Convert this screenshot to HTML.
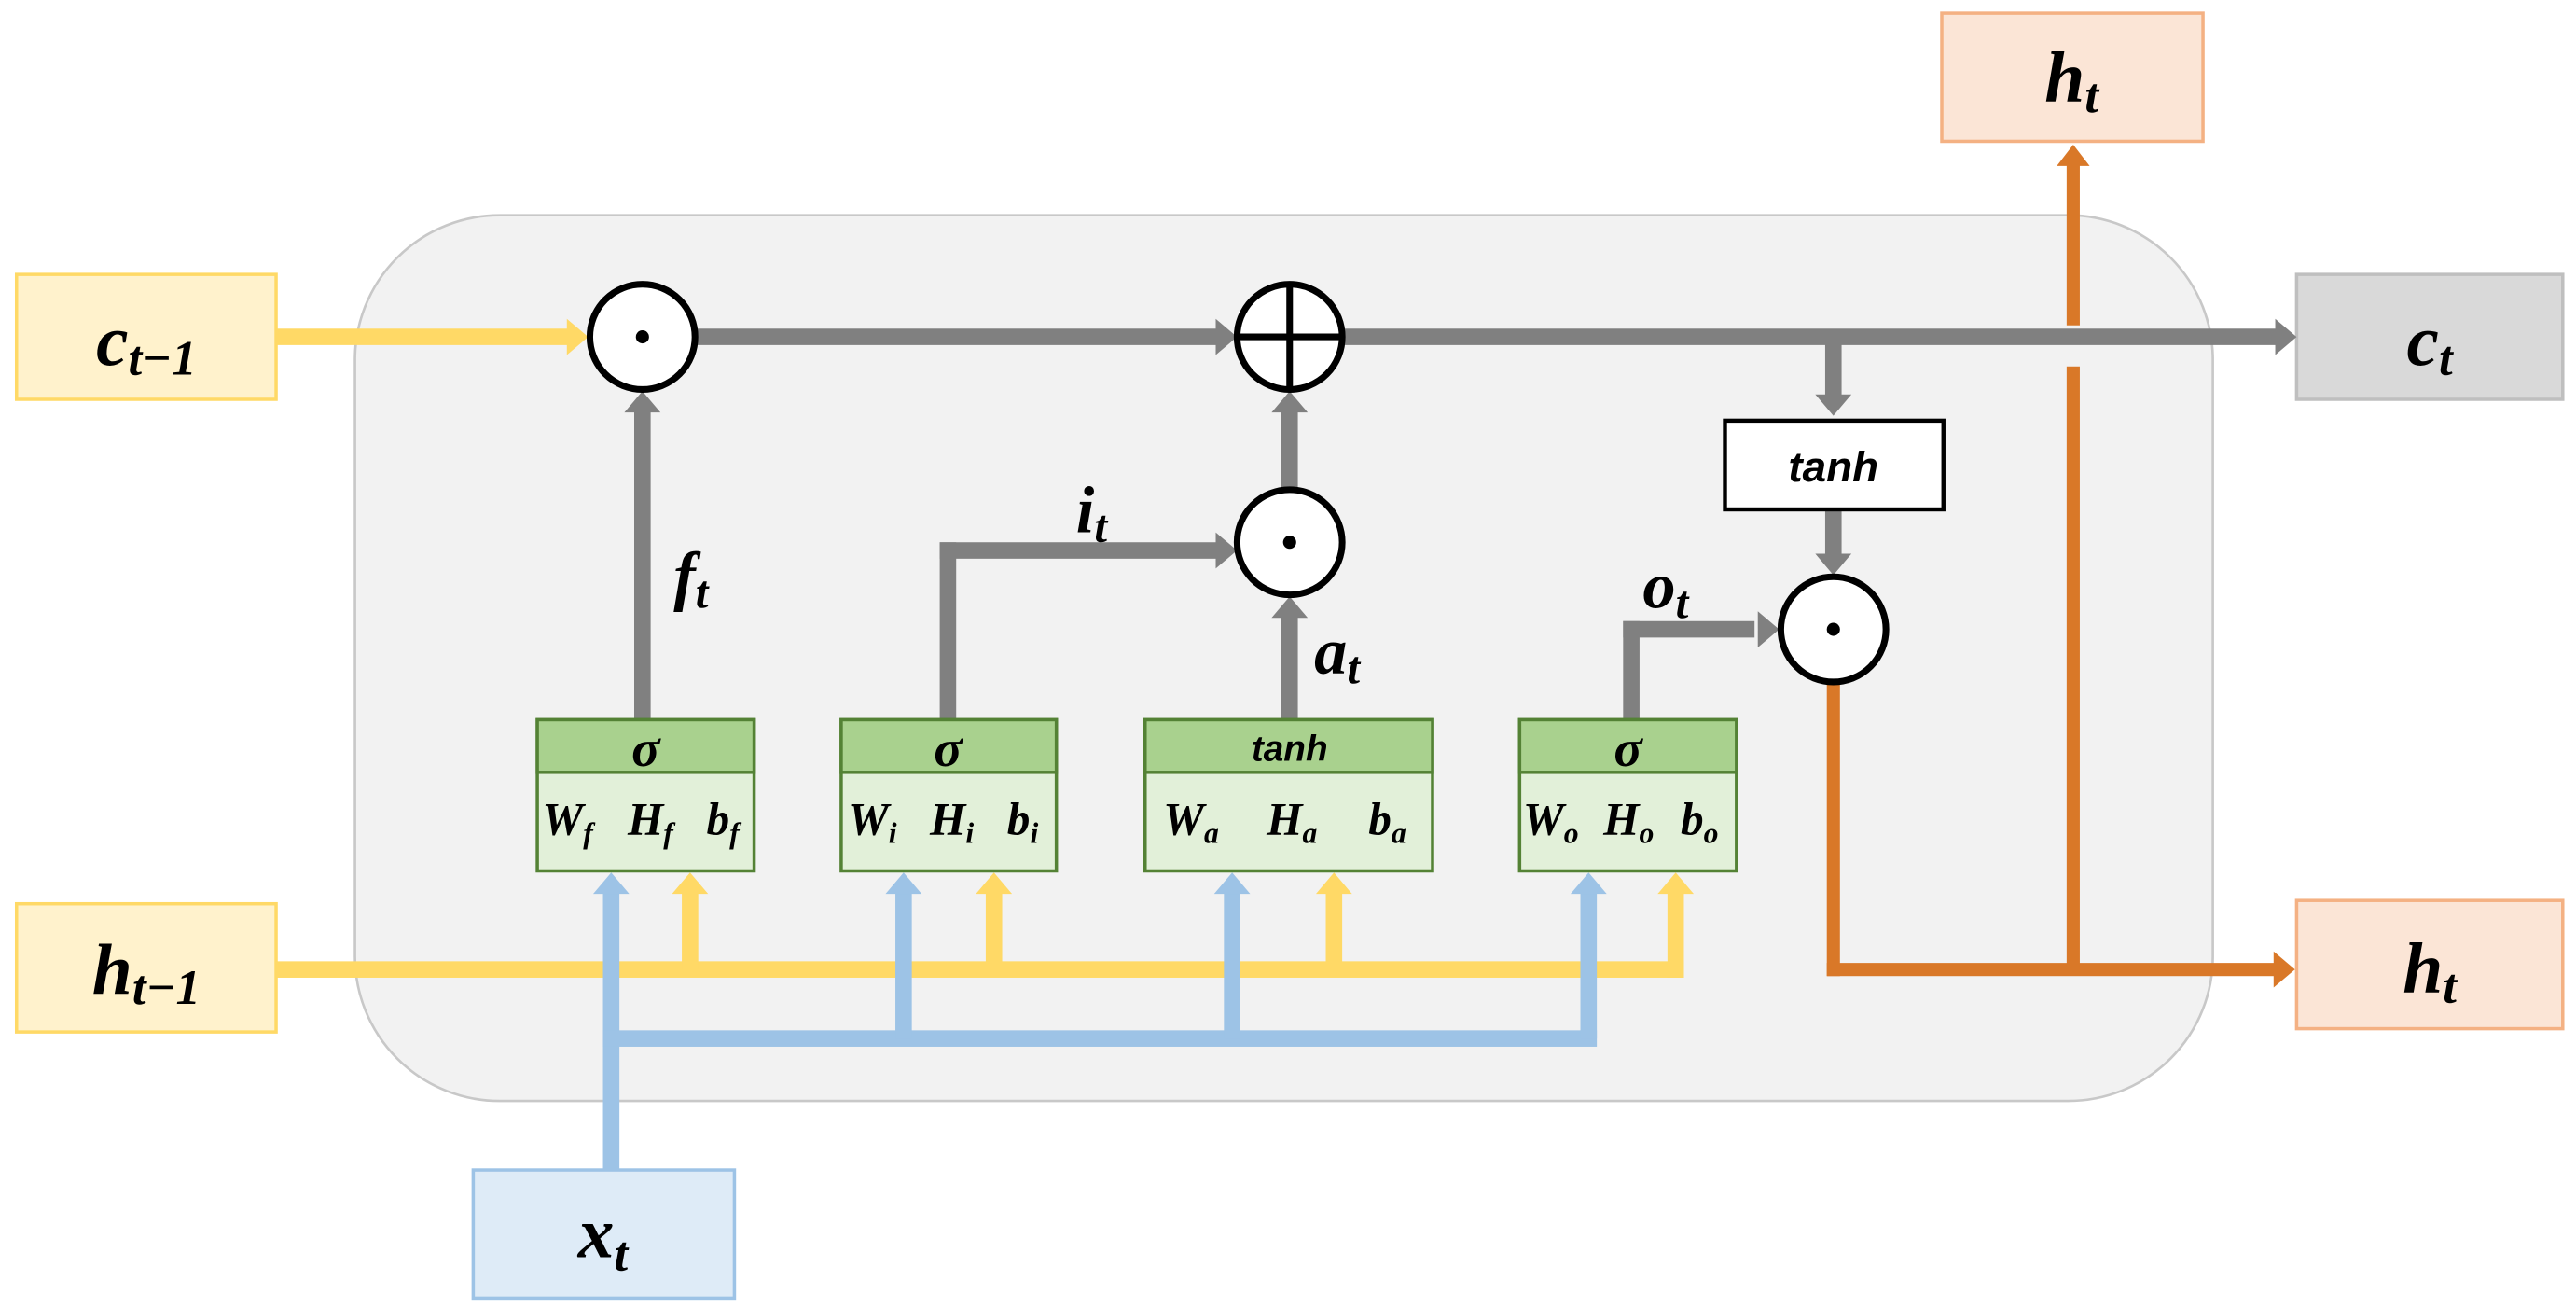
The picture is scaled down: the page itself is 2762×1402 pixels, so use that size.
<!DOCTYPE html>
<html><head><meta charset="utf-8"><style>
html,body{margin:0;padding:0;background:#fff;}
svg{display:block;}
text{font-family:"Liberation Serif",serif;font-weight:bold;font-style:italic;fill:#000;}
.s{font-family:"Liberation Sans",sans-serif;}
</style></head><body>
<svg width="2762" height="1402" viewBox="0 0 1568 796" xmlns="http://www.w3.org/2000/svg">
<rect width="1568" height="796" fill="#fff"/>
<rect x="216" y="131" width="1131" height="539" rx="88" fill="#f2f2f2" stroke="#c8c8c8" stroke-width="1.5"/>

<rect x="10" y="167" width="158" height="76" fill="#fff2cc" stroke="#ffd966" stroke-width="2"/>
<text x="89" y="222" font-size="44" text-anchor="middle">c<tspan font-size="30" dy="6">t−1</tspan></text>
<rect x="10" y="550" width="158" height="78" fill="#fff2cc" stroke="#ffd966" stroke-width="2"/>
<text x="89" y="605" font-size="44" text-anchor="middle">h<tspan font-size="30" dy="6">t−1</tspan></text>
<rect x="288" y="712" width="159" height="78" fill="#deebf7" stroke="#9dc3e6" stroke-width="2"/>
<text x="367" y="765" font-size="44" text-anchor="middle">x<tspan font-size="30" dy="8">t</tspan></text>
<rect x="1182" y="8" width="159" height="78" fill="#fbe5d6" stroke="#f4b183" stroke-width="2"/>
<text x="1261" y="62" font-size="44" text-anchor="middle">h<tspan font-size="30" dy="6">t</tspan></text>
<rect x="1398" y="167" width="162" height="76" fill="#d9d9d9" stroke="#bfbfbf" stroke-width="2"/>
<text x="1479" y="222" font-size="44" text-anchor="middle">c<tspan font-size="30" dy="6">t</tspan></text>
<rect x="1398" y="548" width="162" height="78" fill="#fbe5d6" stroke="#f4b183" stroke-width="2"/>
<text x="1479" y="604" font-size="44" text-anchor="middle">h<tspan font-size="30" dy="6">t</tspan></text>

<g fill="#ffd966" stroke="none">
<rect x="168" y="200" width="178" height="10"/>
<polygon points="345,194 358,205 345,216"/>
<rect x="168" y="585" width="857" height="10"/>
<rect x="1015" y="543" width="10" height="52"/>
<polygon points="1009,544 1020,531 1031,544"/>
<rect x="415" y="543" width="10" height="47"/><polygon points="409,544 420,531 431,544"/>
<rect x="600" y="543" width="10" height="47"/><polygon points="594,544 605,531 616,544"/>
<rect x="807" y="543" width="10" height="47"/><polygon points="801,544 812,531 823,544"/>
</g>
<g fill="#9dc3e6">
<rect x="367" y="543" width="10" height="169"/><polygon points="361,544 372,531 383,544"/>
<rect x="367" y="627" width="605" height="10"/>
<rect x="545" y="543" width="10" height="89"/><polygon points="539,544 550,531 561,544"/>
<rect x="745" y="543" width="10" height="89"/><polygon points="739,544 750,531 761,544"/>
<rect x="962" y="543" width="10" height="89"/><polygon points="956,544 967,531 978,544"/>
</g>
<g fill="#808080">
<rect x="424" y="200" width="318" height="10"/><polygon points="740,194 753,205 740,216"/>
<rect x="817" y="200" width="570" height="10"/><polygon points="1385,194 1398,205 1385,216"/>
<rect x="386" y="250" width="10" height="188"/><polygon points="380,251 391,238 402,251"/>
<rect x="572" y="330" width="10" height="108"/><rect x="572" y="330" width="170" height="10"/><polygon points="740,324 753,335 740,346"/>
<rect x="780" y="375" width="10" height="63"/><polygon points="774,376 785,363 796,376"/>
<rect x="780" y="250" width="10" height="50"/><polygon points="774,251 785,238 796,251"/>
<rect x="988" y="378" width="10" height="60"/><rect x="988" y="378" width="80" height="10"/><polygon points="1070,372 1083,383 1070,394"/>
<rect x="1111" y="205" width="10" height="36"/><polygon points="1105,240 1116,253 1127,240"/>
<rect x="1111" y="310" width="10" height="28"/><polygon points="1105,337 1116,350 1127,337"/>
</g>
<g fill="#d97828">
<rect x="1112" y="414" width="8" height="180"/>
<rect x="1112" y="586" width="274" height="8"/><polygon points="1384,579 1397,590 1384,601"/>
<rect x="1258" y="100" width="8" height="98"/><polygon points="1252,101 1262,88 1272,101"/>
<rect x="1258" y="223" width="8" height="367"/>
</g>

<g fill="#fff" stroke="#000" stroke-width="4">
<circle cx="391" cy="205" r="32"/>
<circle cx="785" cy="205" r="32"/>
<circle cx="785" cy="330" r="32"/>
<circle cx="1116" cy="383" r="32"/>
</g>
<g fill="#000"><circle cx="391" cy="205" r="4"/><circle cx="785" cy="330" r="4"/><circle cx="1116" cy="383" r="4"/></g>
<path d="M753 205H817M785 173V237" stroke="#000" stroke-width="4"/>

<rect x="1050" y="256" width="133" height="54" fill="#fff" stroke="#000" stroke-width="2.5"/>
<text class="s" x="1116" y="293" font-size="26" text-anchor="middle">tanh</text>

<text x="410" y="364" font-size="40">f<tspan font-size="28" dy="6">t</tspan></text>
<text x="655" y="324" font-size="40">i<tspan font-size="28" dy="6">t</tspan></text>
<text x="800" y="410" font-size="40">a<tspan font-size="28" dy="6">t</tspan></text>
<text x="1000" y="370" font-size="40">o<tspan font-size="28" dy="6">t</tspan></text>

<g stroke="#548235" stroke-width="2">
<rect x="327" y="438" width="132" height="92" fill="#e2f0d9"/><rect x="327" y="438" width="132" height="32" fill="#a9d18e"/>
<rect x="512" y="438" width="131" height="92" fill="#e2f0d9"/><rect x="512" y="438" width="131" height="32" fill="#a9d18e"/>
<rect x="697" y="438" width="175" height="92" fill="#e2f0d9"/><rect x="697" y="438" width="175" height="32" fill="#a9d18e"/>
<rect x="925" y="438" width="132" height="92" fill="#e2f0d9"/><rect x="925" y="438" width="132" height="32" fill="#a9d18e"/>
</g>
<g font-size="32" text-anchor="middle">
<text x="393" y="466">σ</text><text x="577" y="466">σ</text><text x="991" y="466">σ</text>
</g>
<text class="s" x="785" y="463" font-size="22" text-anchor="middle">tanh</text>
<g font-size="28">
<text x="330" y="508">W<tspan font-size="18" dy="5">f</tspan></text>
<text x="382" y="508">H<tspan font-size="18" dy="5">f</tspan></text>
<text x="430" y="508">b<tspan font-size="18" dy="5">f</tspan></text>
<text x="516" y="508">W<tspan font-size="18" dy="5">i</tspan></text>
<text x="566" y="508">H<tspan font-size="18" dy="5">i</tspan></text>
<text x="613" y="508">b<tspan font-size="18" dy="5">i</tspan></text>
<text x="708" y="508">W<tspan font-size="18" dy="5">a</tspan></text>
<text x="771" y="508">H<tspan font-size="18" dy="5">a</tspan></text>
<text x="833" y="508">b<tspan font-size="18" dy="5">a</tspan></text>
<text x="927" y="508">W<tspan font-size="18" dy="5">o</tspan></text>
<text x="976" y="508">H<tspan font-size="18" dy="5">o</tspan></text>
<text x="1023" y="508">b<tspan font-size="18" dy="5">o</tspan></text>
</g>
</svg>
</body></html>
